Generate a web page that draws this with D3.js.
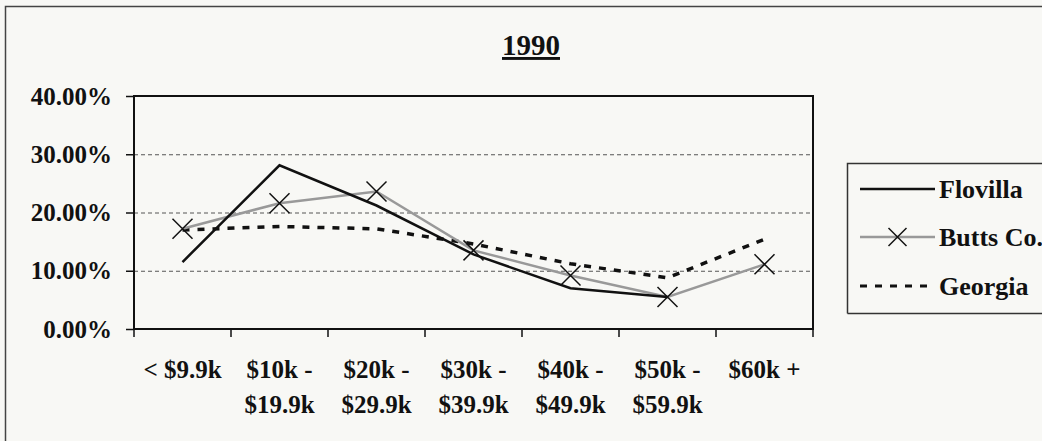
<!DOCTYPE html>
<html>
<head>
<meta charset="utf-8">
<script src="https://cdn.jsdelivr.net/npm/d3@7"></script>
<style>
  body { margin: 0; background: #f8f8f5; }
  svg text { font-family: "Liberation Serif", "Times New Roman", serif; font-weight: bold; fill: #111; }
</style>
</head>
<body>
<div class="canvas"></div>
<script>
// data (percent)
const categories = [["< $9.9k"], ["$10k -", "$19.9k"], ["$20k -", "$29.9k"], ["$30k -", "$39.9k"],
                    ["$40k -", "$49.9k"], ["$50k -", "$59.9k"], ["$60k +"]];
const flovilla = [11.5, 28.1, 21.2, 12.8, 7.0, 5.5, null];
const butts = [17.2, 21.6, 23.6, 13.5, 9.2, 5.5, 11.1];
const georgia = [17.0, 17.6, 17.2, 14.6, 11.2, 8.8, 15.4];
const yTicks = [0, 10, 20, 30, 40];
const seriesNames = ["Flovilla", "Butts Co.", "Georgia"];

const dims = { width: 1042, height: 441 };
const plot = { left: 134, top: 96, right: 813, bottom: 329 };

const svg = d3.select('.canvas')
    .append('svg')
    .attr('width', dims.width)
    .attr('height', dims.height);

// outer frame
svg.append('path')
    .attr('d', `M5.5,${dims.height} V6.5 H${dims.width}`)
    .attr('fill', 'none')
    .attr('stroke', '#444')
    .attr('stroke-width', 1.5);

// title
svg.append('text')
    .attr('x', 531)
    .attr('y', 55)
    .attr('text-anchor', 'middle')
    .attr('font-size', 29)
    .attr('text-decoration', 'underline')
    .text('1990');

const x = d3.scaleBand()
    .domain(d3.range(categories.length))
    .range([plot.left, plot.right]);

const y = d3.scaleLinear()
    .domain([0, 40])
    .range([plot.bottom, plot.top]);

// grid
svg.append('g')
    .selectAll('line')
    .data(yTicks.filter(d => d > 0 && d < 40))
    .enter().append('line')
    .attr('x1', plot.left).attr('x2', plot.right)
    .attr('y1', d => y(d) + 0.5).attr('y2', d => y(d) + 0.5)
    .attr('stroke', '#555')
    .attr('stroke-width', 1)
    .attr('stroke-dasharray', '4,3');

// plot frame
svg.append('rect')
    .attr('x', plot.left).attr('y', plot.top)
    .attr('width', plot.right - plot.left)
    .attr('height', plot.bottom - plot.top)
    .attr('fill', 'none')
    .attr('stroke', '#111')
    .attr('stroke-width', 2);

// y axis
const yAxis = d3.axisLeft(y)
    .tickValues(yTicks)
    .tickSize(8)
    .tickPadding(14)
    .tickFormat(d => d.toFixed(2) + '%');

const yg = svg.append('g')
    .attr('transform', `translate(${plot.left}, 0)`)
    .call(yAxis);
yg.select('.domain').remove();
yg.selectAll('line').attr('stroke', '#111').attr('stroke-width', 1.5);
yg.selectAll('text')
    .attr('font-size', 25)
    .attr('font-family', '"Liberation Serif", serif')
    .attr('font-weight', 'bold')
    .attr('fill', '#111');

// x axis ticks at band edges
const edges = d3.range(categories.length + 1).map(i => plot.left + i * x.bandwidth());
svg.append('g')
    .selectAll('line')
    .data(edges)
    .enter().append('line')
    .attr('x1', d => d).attr('x2', d => d)
    .attr('y1', plot.bottom).attr('y2', plot.bottom + 8)
    .attr('stroke', '#111')
    .attr('stroke-width', 1.5);

// x labels
const xl = svg.append('g')
    .selectAll('text')
    .data(categories)
    .enter().append('text')
    .attr('x', (d, i) => x(i) + x.bandwidth() / 2)
    .attr('y', 378)
    .attr('text-anchor', 'middle')
    .attr('font-size', 25);
xl.selectAll('tspan')
    .data(d => d)
    .enter().append('tspan')
    .attr('x', function() { return this.parentNode.getAttribute('x'); })
    .attr('dy', (d, i) => i === 0 ? 0 : 35)
    .text(d => d);

const cx = i => x(i) + x.bandwidth() / 2;
const line = d3.line()
    .defined(d => d != null)
    .x((d, i) => cx(i))
    .y(d => y(d));

// Georgia dashed
svg.append('path')
    .datum(georgia)
    .attr('d', line)
    .attr('fill', 'none')
    .attr('stroke', '#111')
    .attr('stroke-width', 3.5)
    .attr('stroke-dasharray', '7,8');

// Butts Co. gray with X markers
svg.append('path')
    .datum(butts)
    .attr('d', line)
    .attr('fill', 'none')
    .attr('stroke', '#999')
    .attr('stroke-width', 2.5);

// Flovilla solid black
svg.append('path')
    .datum(flovilla)
    .attr('d', line)
    .attr('fill', 'none')
    .attr('stroke', '#111')
    .attr('stroke-width', 2.5);

const xMark = (px, py, r) => `M${px - r},${py - r}L${px + r},${py + r}M${px - r},${py + r}L${px + r},${py - r}`;
svg.append('g')
    .selectAll('path')
    .data(butts)
    .enter().append('path')
    .attr('d', (d, i) => xMark(cx(i), y(d), 10))
    .attr('stroke', '#111')
    .attr('stroke-width', 1.5);

// legend
const legend = svg.append('g');
legend.append('path')
    .attr('d', `M847.5,313.5 V163.5 H${dims.width}`)
    .attr('fill', 'none')
    .attr('stroke', '#333')
    .attr('stroke-width', 1.5);
legend.append('line')
    .attr('x1', 847.5).attr('x2', dims.width)
    .attr('y1', 313.5).attr('y2', 313.5)
    .attr('stroke', '#333').attr('stroke-width', 1.5);

const rows = [189, 237, 286];
const lx1 = 860, lx2 = 935;
legend.append('line')
    .attr('x1', lx1).attr('x2', lx2).attr('y1', rows[0]).attr('y2', rows[0])
    .attr('stroke', '#111').attr('stroke-width', 2.5);
legend.append('line')
    .attr('x1', lx1).attr('x2', lx2).attr('y1', rows[1]).attr('y2', rows[1])
    .attr('stroke', '#999').attr('stroke-width', 2.5);
legend.append('path')
    .attr('d', xMark((lx1 + lx2) / 2, rows[1], 9))
    .attr('stroke', '#111').attr('stroke-width', 1.5);
legend.append('line')
    .attr('x1', lx1).attr('x2', lx2).attr('y1', rows[2]).attr('y2', rows[2])
    .attr('stroke', '#111').attr('stroke-width', 3)
    .attr('stroke-dasharray', '7,8');

legend.selectAll('text')
    .data(seriesNames)
    .enter().append('text')
    .attr('x', 939)
    .attr('y', (d, i) => rows[i] + 9)
    .attr('font-size', 26)
    .text(d => d);
</script>
</body>
</html>
